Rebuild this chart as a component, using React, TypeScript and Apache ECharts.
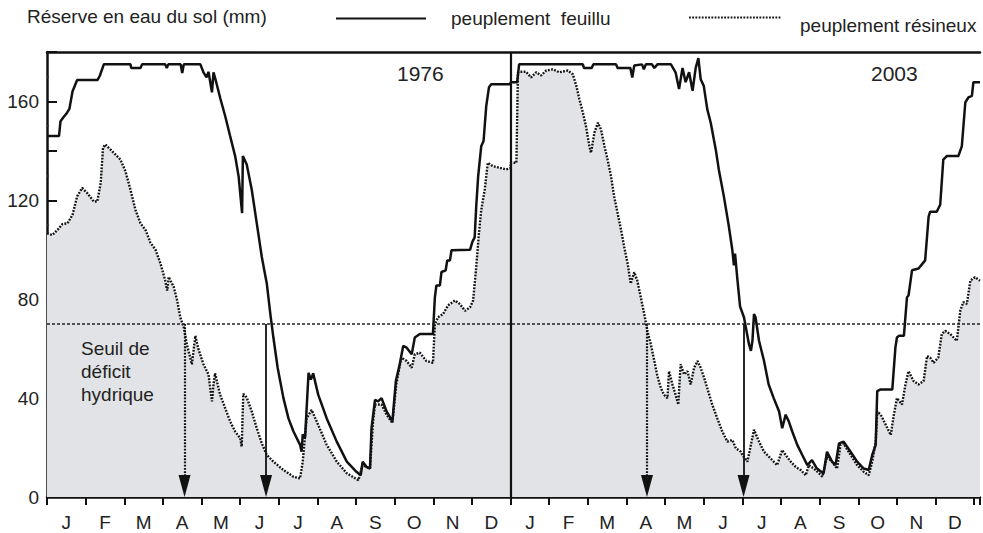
import React, { useEffect, useRef } from "react";
import * as echarts from "echarts";

const FONT = '"Liberation Sans", Arial, Helvetica, sans-serif';

// Month letters (one year), repeated for both panels
const monthLetters = ["J", "F", "M", "A", "M", "J", "J", "A", "S", "O", "N", "D"];
const years = ["1976", "2003"];
const threshold = 70; // seuil de déficit hydrique (mm)

// [month position within the year, soil water reserve (mm)]
const feuillu1976 = [
  [0, 146], [0.31, 146], [0.35, 152], [0.42, 153.5], [0.5, 155], [0.58, 157], [0.66, 164], [0.78, 168.7],
  [1.31, 168.7], [1.37, 170.5], [1.47, 175], [2.16, 175], [2.18, 173.5], [2.42, 173.5], [2.46, 175],
  [3.06, 175], [3.1, 173.5], [3.14, 175], [3.46, 175], [3.5, 171.5], [3.54, 175], [3.97, 175],
  [4.05, 171.8], [4.13, 169.7], [4.18, 172], [4.27, 163.7], [4.31, 171.8], [4.36, 169], [4.49, 161],
  [4.61, 154.2], [4.74, 146], [4.87, 137.9], [4.96, 129.7], [5.05, 114.8], [5.07, 137.9], [5.17, 134.5],
  [5.3, 124.3], [5.43, 110.7], [5.56, 97.1], [5.69, 86.3], [5.78, 74.2], [5.86, 64.5], [5.97, 52.3],
  [6.12, 40], [6.25, 31.8], [6.38, 26.5], [6.55, 21.1], [6.59, 18.3], [6.62, 25.3], [6.68, 24],
  [6.77, 50.2], [6.83, 47.5], [6.89, 50], [7.02, 41.4], [7.24, 31.8], [7.5, 22.4], [7.76, 14.3],
  [8.01, 10.2], [8.12, 8.8], [8.17, 14.3], [8.27, 12.2], [8.36, 11.5], [8.4, 27.9], [8.49, 39.3],
  [8.57, 38.7], [8.66, 40], [8.79, 34.6], [8.94, 30.6], [9.03, 46.9], [9.13, 53.7], [9.22, 61.1],
  [9.31, 60.4], [9.44, 57.7], [9.52, 64.5], [9.65, 65.9], [9.99, 65.9], [10.04, 80.8], [10.08, 85.6],
  [10.17, 85.6], [10.21, 91], [10.32, 91.7], [10.36, 95.7], [10.43, 95.7], [10.47, 99.8], [10.95, 100],
  [11.01, 103.2], [11.07, 105], [11.11, 117.5], [11.16, 129.7], [11.24, 141.9], [11.3, 144],
  [11.37, 158.2], [11.44, 165.7], [11.5, 167], [12, 167],
];

const resineux1976 = [
  [0, 106.6], [0.14, 106], [0.27, 108], [0.4, 110.4], [0.53, 110.7], [0.66, 114.1], [0.78, 121.6],
  [0.91, 125], [1.04, 123], [1.21, 119.5], [1.3, 119.5], [1.39, 127], [1.45, 141.3], [1.51, 142.6],
  [1.64, 140.6], [1.77, 138.6], [1.9, 136.5], [2.03, 131.8], [2.16, 124.3], [2.29, 116.1], [2.42, 110.7],
  [2.55, 108], [2.68, 102.8], [2.81, 100], [2.94, 94.3], [3.06, 87.6], [3.11, 83.5], [3.15, 89],
  [3.28, 85], [3.37, 79.5], [3.45, 72.7], [3.54, 68.6], [3.62, 61.8], [3.75, 53.7], [3.84, 65.2],
  [3.92, 59.8], [4.05, 53.7], [4.18, 49.6], [4.27, 38.7], [4.31, 45.5], [4.35, 50], [4.48, 41.4],
  [4.61, 36], [4.74, 30.6], [4.87, 26.5], [5.0, 23.8], [5.04, 20.4], [5.08, 41.7], [5.17, 40.3],
  [5.3, 34.6], [5.43, 27.8], [5.56, 21.7], [5.69, 17], [5.86, 14.3], [6.12, 10.9], [6.38, 8.2],
  [6.55, 7.5], [6.62, 14.3], [6.72, 31.8], [6.85, 35.2], [6.98, 30.6], [7.24, 21.1], [7.5, 14.3],
  [7.76, 9.6], [8.06, 6.8], [8.17, 12.9], [8.36, 11.5], [8.44, 30.6], [8.49, 37.4], [8.66, 37.4],
  [8.79, 33.3], [8.94, 29.9], [9.04, 45.5], [9.17, 56.4], [9.31, 55], [9.44, 52.3], [9.52, 57.7],
  [9.65, 58.4], [9.82, 55], [9.99, 54.3], [10.04, 69.9], [10.12, 72.7], [10.25, 74], [10.38, 77.5],
  [10.56, 79.5], [10.69, 78], [10.82, 75.3], [10.95, 76.7], [11.03, 79.5], [11.11, 93], [11.18, 106.6],
  [11.24, 116.1], [11.33, 124.3], [11.41, 135.2], [11.54, 133.8], [11.71, 133.2], [11.88, 132.5], [12, 133],
];

const feuillu2003 = [
  [0, 167.8], [0.17, 167.8], [0.22, 175], [1.87, 175], [1.9, 173.5], [2.1, 173.5], [2.14, 175],
  [2.73, 175], [2.77, 173.5], [3.1, 173.5], [3.15, 169.7], [3.2, 174.5], [3.4, 175], [3.45, 173],
  [3.5, 175], [3.66, 175], [3.72, 173.5], [3.8, 175], [4.15, 175], [4.27, 171.8], [4.36, 165],
  [4.45, 173.5], [4.53, 167.8], [4.62, 171.8], [4.71, 164.3], [4.79, 173.5], [4.86, 177.5], [4.92, 169],
  [5.0, 166.3], [5.09, 156.9], [5.18, 151.4], [5.26, 144.7], [5.31, 140.6], [5.39, 132.4], [5.52, 121.6],
  [5.65, 109.4], [5.74, 99.8], [5.78, 93.7], [5.81, 98.4], [5.87, 88], [5.94, 77], [6.04, 72.7],
  [6.17, 61.8], [6.22, 59.1], [6.26, 63.2], [6.3, 74], [6.34, 72.7], [6.43, 63.2], [6.56, 55],
  [6.68, 45.5], [6.81, 40], [6.95, 34.6], [7.03, 27.8], [7.12, 33.3], [7.2, 30.6], [7.29, 26.5],
  [7.42, 21.1], [7.55, 17], [7.68, 12.9], [7.8, 14.9], [7.93, 11.5], [8.1, 9.5], [8.19, 18.3],
  [8.32, 14.3], [8.41, 12.9], [8.5, 21.7], [8.62, 22.4], [8.8, 18.3], [8.97, 14.3], [9.14, 11.5],
  [9.27, 10.9], [9.36, 17], [9.45, 21.1], [9.49, 42.8], [9.58, 43.5], [9.88, 43.5], [9.96, 60.4],
  [10.0, 64.5], [10.05, 65.2], [10.18, 65.2], [10.26, 80.8], [10.3, 81.5], [10.39, 91.7], [10.56, 92.4],
  [10.73, 95.7], [10.82, 113.4], [10.86, 115.4], [11.03, 115.4], [11.12, 118.2], [11.2, 136.5],
  [11.29, 137.9], [11.59, 137.9], [11.68, 141.9], [11.77, 159.6], [11.85, 161.6], [11.94, 162.3],
  [11.98, 167.8], [12.15, 167.8],
];

const resineux2003 = [
  [0, 135.2], [0.15, 135.2], [0.19, 171.8], [0.23, 172], [0.4, 172], [0.53, 169.7], [0.66, 171.8],
  [0.79, 170.5], [0.92, 172.5], [1.09, 173], [1.26, 171.8], [1.48, 172.5], [1.61, 171], [1.7, 166.4],
  [1.78, 161], [1.87, 155.5], [1.95, 150.1], [2.04, 141.9], [2.08, 139.2], [2.17, 147.4], [2.26, 151.4],
  [2.34, 148.7], [2.43, 141.9], [2.51, 136.5], [2.6, 129.7], [2.68, 121.6], [2.77, 114.8], [2.86, 108],
  [2.94, 101.2], [3.03, 94.4], [3.11, 86.3], [3.16, 89], [3.2, 90.9], [3.28, 87.5], [3.37, 80.8],
  [3.46, 74], [3.54, 67.2], [3.63, 61.8], [3.72, 55], [3.8, 48.9], [3.89, 44.1], [3.97, 41.4],
  [4.06, 40], [4.1, 50.9], [4.19, 45.5], [4.27, 41.4], [4.34, 37.4], [4.4, 53.7], [4.49, 49.6],
  [4.58, 50.9], [4.66, 45.5], [4.75, 52.3], [4.84, 55], [4.92, 52.3], [5.01, 48.2], [5.09, 44.1],
  [5.22, 37.4], [5.35, 31.8], [5.48, 26.5], [5.61, 22.4], [5.74, 23.1], [5.83, 19.7], [5.96, 18.3],
  [6.0, 17], [6.13, 14.3], [6.22, 21.1], [6.3, 27.2], [6.43, 22.4], [6.56, 18.3], [6.73, 15.6],
  [6.9, 12.9], [7.03, 19], [7.12, 17], [7.25, 14.3], [7.38, 12.2], [7.51, 10.9], [7.64, 8.8],
  [7.72, 12.9], [7.9, 10.9], [8.07, 8.2], [8.19, 16.3], [8.32, 14.3], [8.45, 11.5], [8.54, 21.1],
  [8.62, 21.7], [8.8, 17], [8.97, 12.9], [9.14, 10.2], [9.27, 8.8], [9.36, 14.3], [9.45, 22.4],
  [9.49, 34.6], [9.58, 33.3], [9.71, 29.2], [9.84, 25.1], [9.92, 33.3], [10.0, 40], [10.13, 37.4],
  [10.22, 45.5], [10.3, 50.9], [10.43, 46.9], [10.56, 45.5], [10.69, 46.9], [10.78, 57], [10.86, 56.4],
  [10.95, 54.3], [11.07, 56.4], [11.16, 65.9], [11.25, 67.2], [11.38, 65.9], [11.55, 63.2], [11.64, 75.4],
  [11.72, 78.8], [11.81, 78.1], [11.9, 87.5], [12.02, 88.9], [12.15, 87.5],
];

// Dates (in months) where each stand crosses the deficit threshold
const crossingFeuillu = [5.67, 6.03];
const crossingResineux = [3.56, 3.53];

const X_MAX = 24.15;

export default function App() {
  const ref = useRef<HTMLDivElement>(null);

  useEffect(() => {
    if (!ref.current) return;
    const chart = echarts.init(ref.current, undefined, { renderer: "svg" });

    const shift = (arr: number[][], off: number) => arr.map(([m, v]) => [m + off, v]);
    const feuillu = [...shift(feuillu1976, 0), ...shift(feuillu2003, 12)];
    const resineux = [...shift(resineux1976, 0), ...shift(resineux2003, 12)];

    const arrowEnd = 4.5;
    const solidArrows = crossingFeuillu.map((m, i) => [
      { coord: [m + 12 * i, threshold], symbol: "none" },
      { coord: [m + 12 * i, arrowEnd], symbol: "triangle", symbolSize: [12, 22] },
    ]);
    const dottedArrows = crossingResineux.map((m, i) => [
      { coord: [m + 12 * i, threshold], symbol: "none" },
      { coord: [m + 12 * i, arrowEnd], symbol: "triangle", symbolSize: [12, 22] },
    ]);

    const labelAxisFormatter = (v: number) => {
      const k = Math.floor(v);
      if (Math.abs(v - k - 0.5) < 1e-6 && k >= 0 && k < 24) return monthLetters[k % 12];
      return "";
    };

    const hiddenSymbol = { color: "transparent", borderColor: "transparent", borderWidth: 0, opacity: 0 };

    chart.setOption({
      animation: false,
      backgroundColor: "#ffffff",
      textStyle: { fontFamily: FONT },
      title: {
        text: "Réserve en eau du sol (mm)",
        left: 22,
        top: 2,
        textStyle: { fontSize: 19, fontWeight: "normal", color: "#222", fontFamily: FONT },
      },
      legend: [
        {
          data: ["peuplement feuillu"],
          formatter: () => "peuplement  feuillu",
          left: 330,
          top: 4,
          itemWidth: 90,
          itemHeight: 14,
          itemStyle: hiddenSymbol,
          textStyle: { fontSize: 19, color: "#222", fontFamily: FONT, padding: [3, 0, 0, 20] },
        },
        {
          data: ["peuplement résineux"],
          formatter: (name: string) => "\n" + name,
          left: 683,
          top: -5,
          itemWidth: 92,
          itemHeight: 14,
          itemStyle: hiddenSymbol,
          textStyle: { fontSize: 19, lineHeight: 16, color: "#222", fontFamily: FONT, padding: [0, 0, 0, 14] },
        },
      ],
      grid: { left: 47, right: 0, top: 52, bottom: 36, containLabel: false },
      xAxis: [
        {
          type: "value",
          min: 0,
          max: X_MAX,
          interval: 1,
          position: "bottom",
          axisLine: { show: true, lineStyle: { color: "#111", width: 2.5 } },
          axisTick: { show: true, inside: false, length: 8, lineStyle: { color: "#111", width: 2 } },
          axisLabel: { show: false },
          splitLine: { show: false },
        },
        {
          type: "value",
          min: 0,
          max: X_MAX,
          interval: 0.5,
          position: "bottom",
          axisLine: { show: false },
          axisTick: { show: false },
          axisLabel: {
            show: true,
            margin: 16,
            fontSize: 19,
            color: "#222",
            fontFamily: FONT,
            formatter: labelAxisFormatter,
            showMinLabel: true,
            showMaxLabel: true,
          },
          splitLine: { show: false },
        },
        {
          type: "value",
          min: 0,
          max: X_MAX,
          position: "top",
          axisLine: { show: true, lineStyle: { color: "#111", width: 2.5 } },
          axisTick: { show: false },
          axisLabel: { show: false },
          splitLine: { show: false },
        },
      ],
      yAxis: {
        type: "value",
        min: 0,
        max: 180,
        interval: 20,
        axisLine: { show: true, lineStyle: { color: "#111", width: 2.5 } },
        axisTick: { show: true, inside: true, length: 10, lineStyle: { color: "#111", width: 2 } },
        minorTick: { show: true, splitNumber: 2, length: 2, lineStyle: { color: "#333", width: 1.5 } },
        axisLabel: {
          margin: 8,
          fontSize: 19,
          color: "#222",
          fontFamily: FONT,
          formatter: (v: number) => (v % 40 === 0 && v <= 160 ? String(v) : ""),
        },
        splitLine: { show: false },
      },
      graphic: [
        { type: "text", x: 397, y: 63, z: 100, style: { text: years[0], fontSize: 21, fontFamily: FONT, fill: "#222" } },
        { type: "text", x: 871, y: 63, z: 100, style: { text: years[1], fontSize: 21, fontFamily: FONT, fill: "#222" } },
        {
          type: "text",
          x: 81,
          y: 337,
          z: 100,
          style: {
            text: "Seuil de\ndéficit\nhydrique",
            fontSize: 19,
            lineHeight: 23,
            fontFamily: FONT,
            fill: "#222",
          },
        },
      ],
      series: [
        {
          name: "peuplement résineux",
          type: "line",
          xAxisIndex: 0,
          data: resineux,
          symbol: "none",
          showSymbol: false,
          lineStyle: { color: "#111", width: 2.4, type: [1.8, 1.4] },
          itemStyle: { color: "#111" },
          areaStyle: { color: "#e2e3e6", opacity: 1, origin: "start" },
          z: 2,
          markLine: {
            silent: true,
            symbol: ["none", "none"],
            label: { show: false },
            lineStyle: { color: "#111", width: 2.2, type: [1.8, 1.4] },
            data: dottedArrows,
          },
        },
        {
          name: "peuplement feuillu",
          type: "line",
          xAxisIndex: 0,
          data: feuillu,
          symbol: "none",
          showSymbol: false,
          lineStyle: { color: "#111", width: 2.5 },
          itemStyle: { color: "#111" },
          z: 3,
          markLine: {
            silent: true,
            symbol: ["none", "none"],
            label: { show: false },
            lineStyle: { color: "#111", width: 1.8, type: "solid" },
            data: [
              { yAxis: threshold, lineStyle: { type: [3, 2], width: 1.6, color: "#222" } },
              { xAxis: 12, lineStyle: { type: "solid", width: 2.2, color: "#111" } },
              ...solidArrows,
            ],
          },
        },
      ],
    });

    return () => chart.dispose();
  }, []);

  return (
    <div
      ref={ref}
      style={{ position: "fixed", left: 0, top: 0, width: 983, height: 533, background: "#fff" }}
    />
  );
}
